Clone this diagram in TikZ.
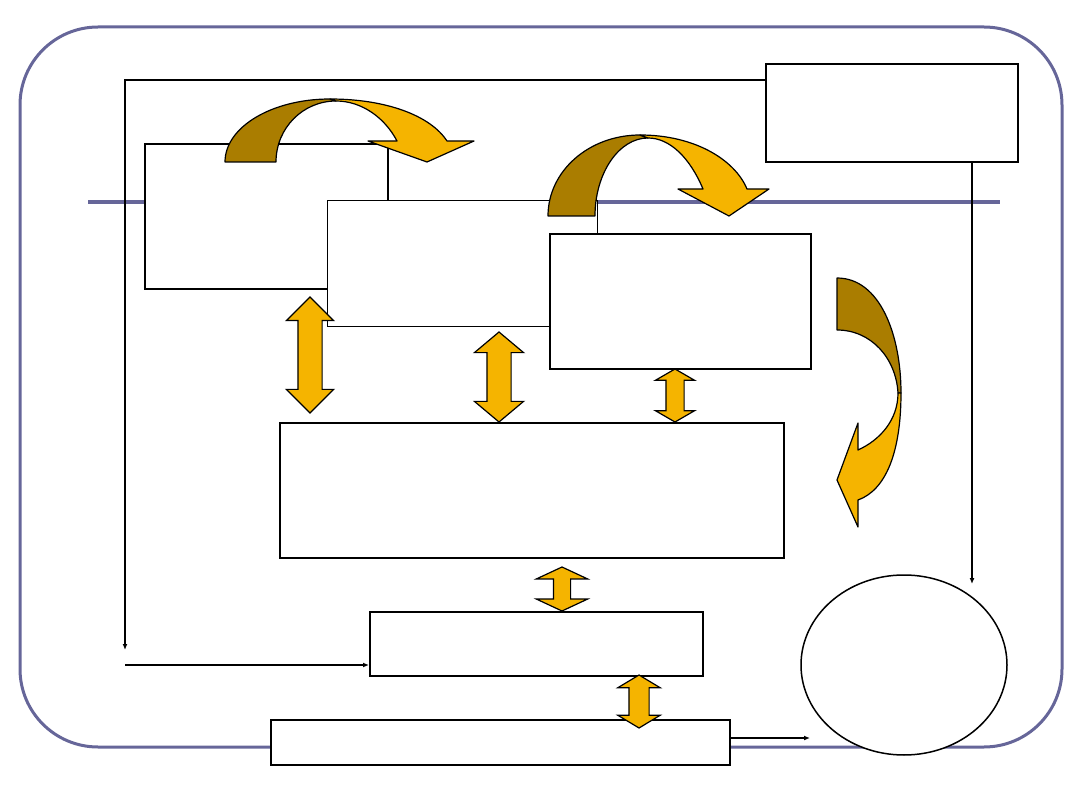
\documentclass[tikz,border=0pt]{standalone}
\usetikzlibrary{arrows.meta,shapes.arrows,shapes.geometric,backgrounds}
\definecolor{slate}{RGB}{102,102,153}
\definecolor{goldlight}{RGB}{245,180,0}
\definecolor{golddark}{RGB}{170,125,0}
\tikzset{
  frame/.style={draw=slate, line width=3pt, rounded corners=78pt},
  rule/.style={draw=slate, line width=3.5pt},
  box/.style={draw=black, fill=white, line width=2pt, rectangle, inner sep=0pt, anchor=north west},
  thinbox/.style={box, line width=1pt},
  link/.style={-{Latex[length=6pt,width=5pt]}, line width=1.8pt},
  updown/.style={double arrow, draw=black, fill=goldlight, line width=1.2pt, inner sep=0pt, minimum width=0pt, rotate=90},
  bendback/.style={draw=black, fill=golddark, line width=1.2pt, line join=round},
  bendfront/.style={draw=black, fill=goldlight, line width=1.2pt, line join=round}
}

\begin{document}
\begin{tikzpicture}[x=1pt,y=-1pt]
  \useasboundingbox (0,0) rectangle (1080,810);
  % boxes
  \node[box, minimum width=243pt, minimum height=145pt] (src) at (144,143) {};
  \node[thinbox, minimum width=270pt, minimum height=126pt] (mid) at (327,200) {};
  \node[box, minimum width=261pt, minimum height=135pt] (proc) at (549,233) {};
  \node[box, minimum width=252pt, minimum height=98pt] (tr) at (765,63) {};
  \node[box, minimum width=504pt, minimum height=135pt] (big) at (279,422) {};
  \node[box, minimum width=333pt, minimum height=64pt] (ctrl) at (369,611) {};
  \node[box, minimum width=459pt, minimum height=45pt] (base) at (270,719) {};
  \node[ellipse, draw=black, fill=white, line width=1.5pt, inner sep=0pt,
        minimum width=206pt, minimum height=180pt] (disk) at (904,665) {};
  % frame, rule and feedback lines
  \begin{scope}[on background layer]
    \draw[frame] (20,27) rectangle (1062,747);
    \draw[rule] (88,202) -- (1000,202);
    \coordinate (feedtop) at (125,650);
    \coordinate (feedin) at (125,665);
    \coordinate (down) at (972,584);
    \coordinate (out) at (810,738);
    \draw[link] ([yshift=-17pt]tr.north west) -| (feedtop);
    \draw[link] (feedin) -- (feedin -| ctrl.west);
    \draw[link] (down |- tr.south) -- (down);
    \draw[link] (out -| base.east) -- (out);
  \end{scope}
  % two-way arrows
  \foreach \n/\x/\y/\len/\hw/\sw/\ang in {1/310/355/116/46/23/90, 2/499/377/90/48/23/100,
      3/675/395.5/53/38/17/120, 4/562/589/44/50/16/130, 5/639/701.5/53/41/19/118}
    \node[updown, minimum height={\len*1pt}, inner ysep={\sw*0.5pt},
          double arrow head extend={(\hw-\sw)*0.5pt}, double arrow tip angle=\ang] (ud\n) at (\x,\y) {};
  % curved arrows
  \path[bendback] (225,162) -- (276,162) .. controls (276,128) and (303,101) .. (336,101)
    -- (330,99) .. controls (272,99) and (225,127) .. (225,162) -- cycle;
  \path[bendfront] (330,99) .. controls (385,99) and (430,115) .. (447,141) -- (474,141)
    -- (427,162) -- (368,141) -- (397,141) .. controls (385,118) and (362,101) .. (336,101) -- cycle;
  \path[bendback] (548,216) -- (595,216) .. controls (595,173) and (619,138) .. (648,138)
    -- (640,135) .. controls (589,135) and (548,171) .. (548,216) -- cycle;
  \path[bendfront] (640,135) .. controls (695,135) and (735,160) .. (747,189) -- (769,189)
    -- (729,216) -- (678,189) -- (703,189) .. controls (690,158) and (670,138) .. (648,138) -- cycle;
  \path[bendback] (837,278) .. controls (880,278) and (901,335) .. (901,393) -- (898,393)
    .. controls (896,358) and (871,330) .. (837,330) -- cycle;
  \path[bendfront] (901,393) .. controls (901,452) and (886,490) .. (858,500) -- (858,527)
    -- (837,480) -- (858,423) -- (858,450) .. controls (880,440) and (898,420) .. (898,393) -- cycle;
\end{tikzpicture}
\end{document}
